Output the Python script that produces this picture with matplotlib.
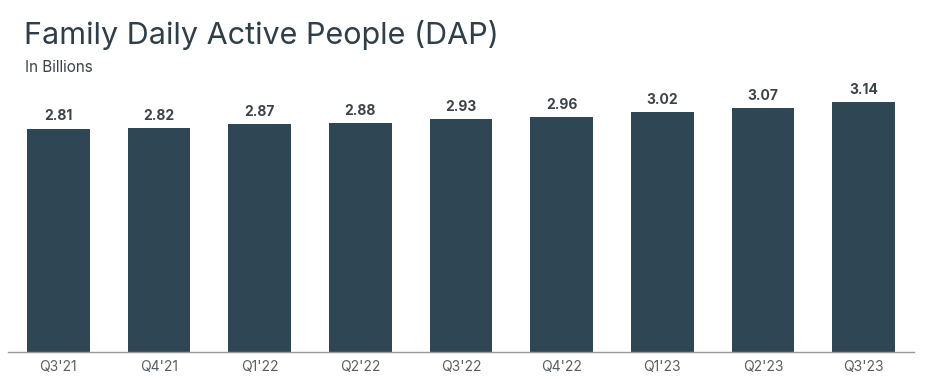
import matplotlib.pyplot as plt

quarters = ["Q3'21", "Q4'21", "Q1'22", "Q2'22", "Q3'22", "Q4'22", "Q1'23", "Q2'23", "Q3'23"]
dap = [2.81, 2.82, 2.87, 2.88, 2.93, 2.96, 3.02, 3.07, 3.14]

plt.rcParams['font.family'] = ['Inter', 'DejaVu Sans']

fig = plt.figure(figsize=(9.28, 3.79), dpi=100)
W, H = 928, 379
ax = fig.add_axes([8 / W, 27 / H, 906 / W, 292 / H])

x = range(len(quarters))
bars = ax.bar(x, dap, width=0.625, color='#2f4654')
for b, v in zip(bars, dap):
    ax.text(b.get_x() + b.get_width() / 2, v + 0.065, f"{v:.2f}", ha='center', va='bottom',
            fontsize=10, fontweight='bold', color='#3c4248')

ax.set_xlim(-0.5, len(quarters) - 0.5)
ax.set_ylim(0, 292 / 79.5)
ax.set_xticks(list(x))
ax.set_xticklabels(quarters, fontsize=10, color='#5a5e62')
ax.tick_params(axis='x', length=0, pad=6)
ax.set_yticks([])
for s in ['top', 'right', 'left']:
    ax.spines[s].set_visible(False)
ax.spines['bottom'].set_color('#9a9a9a')
ax.spines['bottom'].set_linewidth(1)

fig.text(24 / W, 1 - 35 / H, "Family Daily Active People (DAP)", fontsize=22, color='#2f3f4a',
         va='center', ha='left')
fig.text(25 / W, 1 - 67 / H, "In Billions", fontsize=11, color='#3c4248', va='center', ha='left')

fig.savefig('out.png', dpi=100)
